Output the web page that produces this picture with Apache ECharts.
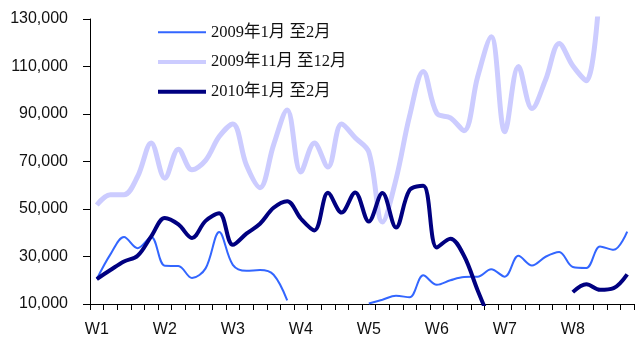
<!DOCTYPE html>
<html>
<head>
<meta charset="utf-8">
<script src="https://cdn.jsdelivr.net/npm/echarts@6/dist/echarts.min.js"></script>
<style>
  html, body { margin: 0; padding: 0; background: #fff; }
  #chart { width: 635px; height: 340px; }
</style>
</head>
<body>
<div id="chart"></div>
<script>
// week labels, 5 trading days per week
var weekLabels = ['W1', 'W2', 'W3', 'W4', 'W5', 'W6', 'W7', 'W8'];
var days = [];
weekLabels.forEach(function (w) {
  for (var d = 1; d <= 5; d++) days.push(w + '-' + d);
});

var seriesNames = ['2009年1月 至2月', '2009年11月 至12月', '2010年1月 至2月'];

var jan2009 = [20500, 30900, 38200, 33500, 38200, 26100, 26000, 20900, 25000, 40300,
  26500, 24000, 24300, 22300, 11500, null, null, null, null, null,
  10200, 11800, 13500, 12800, 22100, 18100, 20000, 21400, 21500, 24600,
  21500, 30300, 26200, 29900, 31900, 25600, 25200, 34200, 32800, 40500];

var nov2009 = [51700, 56000, 56000, 63700, 77800, 63000, 75200, 66500, 70500, 80500,
  85800, 68500, 59000, 77000, 91700, 65600, 77800, 67700, 85800, 80000,
  74000, 44500, 62500, 89200, 107900, 90300, 88400, 83000, 105600, 122500,
  82500, 110000, 92300, 104400, 119700, 110300, 104000, 145000, null, null];

var jan2010 = [20500, 24300, 27900, 30300, 38500, 46200, 43500, 37800, 45000, 48200,
  34900, 39600, 43800, 50500, 53300, 46000, 41000, 56800, 48500, 57000,
  44700, 56700, 42200, 58000, 59800, 33800, 37500, 30300, 15800, 2000,
  null, null, null, null, null, 15000, 18300, 16000, 16700, 22500];

var colors = ['#3366ff', '#ccccff', '#000080'];
var widths = [2, 5, 4];
var legendWidths = [2, 4, 4];

var myChart = echarts.init(document.getElementById('chart'));
var labelFont = "'Liberation Sans', Arial, sans-serif";

var option = {
  backgroundColor: '#fff',
  animation: false,
  grid: {
    left: 90,
    right: 1,
    top: 19,
    bottom: 36
  },
  legend: {
    orient: 'vertical',
    left: 156,
    top: 24,
    padding: 0,
    itemWidth: 48,
    itemHeight: 14,
    itemGap: 13.3,
    itemStyle: { opacity: 0 },
    data: seriesNames.map(function (n, i) {
      return { name: n, lineStyle: { width: legendWidths[i], color: colors[i] } };
    }),
    textStyle: {
      color: '#111',
      fontSize: 16.5,
      fontFamily: "'Liberation Serif', 'Noto Sans CJK SC', serif"
    }
  },
  xAxis: {
    type: 'category',
    data: days,
    boundaryGap: true,
    axisLine: { lineStyle: { color: '#000', width: 1 } },
    axisTick: { show: true, interval: 0, length: 6, lineStyle: { color: '#000' } },
    axisLabel: {
      interval: 4,
      margin: 18,
      color: '#111',
      fontSize: 16,
      fontFamily: labelFont,
      formatter: function (v) { return v.split('-')[0]; }
    },
    splitLine: { show: false }
  },
  yAxis: {
    type: 'value',
    min: 10000,
    max: 130000,
    interval: 20000,
    axisLine: { show: true, lineStyle: { color: '#000', width: 1 } },
    axisTick: { show: true, length: 7, lineStyle: { color: '#000' } },
    axisLabel: {
      margin: 22,
      color: '#111',
      fontSize: 16,
      fontFamily: labelFont,
      formatter: function (v) { return v.toLocaleString('en-US'); }
    },
    splitLine: { show: false }
  },
  series: [jan2009, nov2009, jan2010].map(function (d, i) {
    return {
      name: seriesNames[i],
      type: 'line',
      data: d,
      smooth: 0.35,
      symbol: 'none',
      lineStyle: { color: colors[i], width: widths[i] },
      itemStyle: { color: colors[i] }
    };
  })
};

myChart.setOption(option);
</script>
</body>
</html>
